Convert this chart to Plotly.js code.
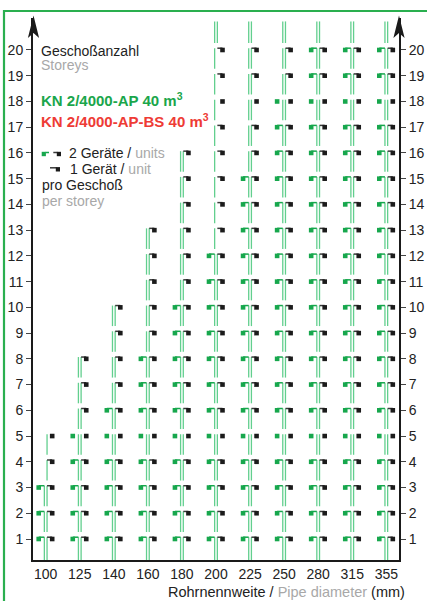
<!DOCTYPE html>
<html><head><meta charset="utf-8">
<script src="https://cdn.plot.ly/plotly-3.0.1.min.js"></script>
<style>html,body{margin:0;padding:0;background:#fff;}#chart{width:427px;height:601px;}</style>
</head><body><div id="chart"></div>
<script>
// ---- data ----
const diameters = [100, 125, 140, 160, 180, 200, 225, 250, 280, 315, 355];
const maxStoreysOneUnit  = [5, 8, 10, 13, 16, 20, 20, 20, 20, 20, 20];
const maxStoreysTwoUnits = [3, 5, 6, 8, 10, 12, 15, 18, 20, 20, 20];
const singleLineFrom = [4, null, null, null, null, 13, null, null, null, null, null];
const singleLineSide = ['R', null, null, null, null, 'L', null, null, null, null, null];
const noHookStoreys = [5, 18];
const storeyTicks = [1,2,3,4,5,6,7,8,9,10,11,12,13,14,15,16,17,18,19,20];

// ---- geometry / style ----
const W = 427, H = 601, ML = 33, MR = 28, MT = 18, MB = 41;
const PW = W - ML - MR, PH = H - MT - MB;
const xRange = [-0.373, 10.373], yRange = [0.184, 21.243];
const pxX = PW / (xRange[1] - xRange[0]), pxY = PH / (yRange[1] - yRange[0]);
const dLine = 1.35 / pxX, dGreen = -7 / pxX, dBlack = 6.5 / pxX;
const hookDy = 1.8 / pxY, gapDy = 7 / pxY, yTopExt = 21.11;

const PIPE = '#62cf8e', GREEN = '#17a74d', BLACK = '#1b1b1b', HOOK = '#3a3a3a';
const FONT = 'Liberation Sans, Arial, sans-serif';
const GRAY = '#a8a8a8';

const pipeX=[], pipeY=[], gHookX=[], gHookY=[], bHookX=[], bHookY=[], gSqX=[], gSqY=[], bSqX=[], bSqY=[];
diameters.forEach((d, i) => {
  const one = maxStoreysOneUnit[i], two = maxStoreysTwoUnits[i];
  for (let s = 1; s <= one; s++) {
    const top = s + hookDy;
    const bot = s === 1 ? yRange[0] : (s - 1) + gapDy;
    const single = singleLineFrom[i] !== null && s >= singleLineFrom[i];
    const sides = single ? [singleLineSide[i] === 'L' ? -dLine : dLine] : [-dLine, dLine];
    sides.forEach(o => { pipeX.push(i + o, i + o, null); pipeY.push(top, bot, null); });
    const hook = !noHookStoreys.includes(s);
    bSqX.push(i + dBlack); bSqY.push(s);
    if (hook) { bHookX.push(i + dLine, i + dBlack, null); bHookY.push(top, top, null); }
    if (s <= two) {
      gSqX.push(i + dGreen); gSqY.push(s);
      if (hook) { gHookX.push(i - dLine, i + dGreen, null); gHookY.push(top, top, null); }
    }
  }
  if (one >= storeyTicks[storeyTicks.length - 1]) {
    [-dLine, dLine].forEach(o => { pipeX.push(i + o, i + o, null); pipeY.push(yTopExt, one + gapDy, null); });
  }
});

const traces = [
  {x: pipeX, y: pipeY, mode: 'lines', line: {color: PIPE, width: 1.3}, hoverinfo: 'skip'},
  {x: gHookX, y: gHookY, mode: 'lines', line: {color: GREEN, width: 1.5}, hoverinfo: 'skip'},
  {x: bHookX, y: bHookY, mode: 'lines', line: {color: HOOK, width: 1.5}, hoverinfo: 'skip'},
  {x: gSqX, y: gSqY, mode: 'markers', marker: {symbol: 'square', size: 4.6, color: GREEN, line: {width: 0}}},
  {x: bSqX, y: bSqY, mode: 'markers', marker: {symbol: 'square', size: 4.6, color: BLACK, line: {width: 0}}, yaxis: 'y2'}
];

// pixel -> paper helpers
const px = v => (v - ML) / PW;
const py = v => (H - MB - v) / PH;

function ann(text, x, y, size, color, extra) {
  return Object.assign({xref: 'paper', yref: 'paper', x: px(x - 2), y: py(y), xanchor: 'left', yanchor: 'middle',
    showarrow: false, text: text, font: {family: FONT, size: size, color: color}}, extra || {});
}

const annotations = [
  ann('Geschoßanzahl', 41, 50.5, 14, '#222'),
  ann('Storeys', 41, 65, 14, GRAY),
  ann('<b>KN 2/4000-AP 40 m<sup>3</sup></b>', 40.5, 100, 15, '#1aa64b'),
  ann('<b>KN 2/4000-AP-BS 40 m<sup>3</sup></b>', 40.5, 121, 15, '#ee3b35'),
  ann('2 Geräte / <span style="color:' + GRAY + '">units</span>', 68.5, 153, 14, '#222'),
  ann('1 Gerät / <span style="color:' + GRAY + '">unit</span>', 70, 169, 14, '#222'),
  ann('pro Geschoß', 41.5, 185, 14, '#222'),
  ann('per storey', 41.5, 201, 14, GRAY),
  {xref: 'paper', yref: 'paper', x: px(286), y: py(591.5), xanchor: 'center', yanchor: 'middle', showarrow: false,
   text: 'Rohrnennweite / <span style="color:' + GRAY + '">Pipe diameter</span> (mm)', font: {family: FONT, size: 14.5, color: '#222'}}
];

function rect(x0, y0, x1, y1, color) {
  return {type: 'rect', xref: 'paper', yref: 'paper', x0: px(x0), x1: px(x1), y0: py(y0), y1: py(y1),
    fillcolor: color, line: {width: 0}, layer: 'above'};
}
function hline(x0, x1, y, color) {
  return {type: 'line', xref: 'paper', yref: 'paper', x0: px(x0), x1: px(x1), y0: py(y), y1: py(y),
    line: {color: color, width: 1.5}, layer: 'above'};
}
function arrow(cx) {
  const p = [[cx, 15.5], [cx + 5.6, 38], [cx, 33], [cx - 5.6, 38]];
  return {type: 'path', xref: 'paper', yref: 'paper', layer: 'above',
    path: 'M' + p.map(q => px(q[0]) + ',' + py(q[1])).join(' L') + ' Z', fillcolor: '#1a1a1a', line: {width: 0}};
}

const shapes = [
  {type: 'rect', xref: 'paper', yref: 'paper', x0: px(4), x1: px(460), y0: py(640), y1: py(11),
   line: {color: '#2aaf4f', width: 2.2}, fillcolor: 'rgba(0,0,0,0)', layer: 'below'},
  arrow(33.5), arrow(399),
  rect(41.7, 151.8, 45.9, 156.2, GREEN), hline(45.5, 49, 152.5, GREEN),
  hline(53.3, 57.5, 152.5, HOOK), rect(56.8, 151.8, 61, 156.2, BLACK),
  hline(50, 56.5, 167.8, HOOK), rect(55.8, 167.1, 60, 171.5, BLACK)
];

const yaxisBase = {range: yRange, tickvals: storeyTicks, ticks: 'outside', ticklen: 5, tickwidth: 1, tickcolor: '#444',
  showline: true, linewidth: 2, linecolor: '#1a1a1a', showgrid: false, zeroline: false,
  tickfont: {family: FONT, size: 14, color: '#222'}, fixedrange: true};

const layout = {
  width: W, height: H, margin: {l: ML, r: MR, t: MT, b: MB, pad: 0},
  paper_bgcolor: '#ffffff', plot_bgcolor: '#ffffff', showlegend: false,
  xaxis: {range: xRange, tickvals: diameters.map((d, i) => i), ticktext: diameters.map(String), ticks: '',
    showline: true, linewidth: 2, linecolor: '#1a1a1a', showgrid: false, zeroline: false,
    tickfont: {family: FONT, size: 14, color: '#222'}, fixedrange: true},
  yaxis: Object.assign({}, yaxisBase, {side: 'left'}),
  yaxis2: Object.assign({}, yaxisBase, {side: 'right', overlaying: 'y'}),
  annotations: annotations, shapes: shapes
};

Plotly.newPlot('chart', traces, layout, {displayModeBar: false, staticPlot: true});
</script></body></html>
